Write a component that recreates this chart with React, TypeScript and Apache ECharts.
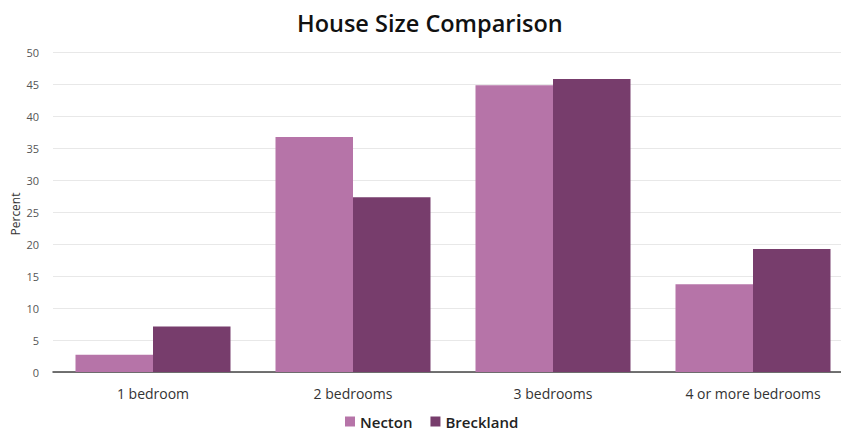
import React, { useEffect, useRef } from "react";
import * as echarts from "echarts";

const categories = ["1 bedroom", "2 bedrooms", "3 bedrooms", "4 or more bedrooms"];
const necton = [2.7, 36.7, 44.8, 13.7];
const breckland = [7.1, 27.3, 45.8, 19.2];
const seriesNames = ["Necton", "Breckland"];
const yAxisName = "Percent";

export default function App() {
  const ref = useRef<HTMLDivElement>(null);
  useEffect(() => {
    if (!ref.current) return;
    const chart = echarts.init(ref.current, null, { renderer: "svg" });
    const font = "'Open Sans', 'Noto Sans', sans-serif";
    chart.setOption({
      animation: false,
      backgroundColor: "#ffffff",
      textStyle: { fontFamily: font },
      title: {
        text: "House Size Comparison",
        left: 292,
        top: 6,
        textStyle: { fontFamily: font, fontSize: 23.5, fontWeight: 600, color: "#111" },
      },
      legend: {
        data: seriesNames,
        top: 409,
        left: 340,
        itemWidth: 10,
        itemHeight: 10,
        itemGap: 18,
        icon: "rect",
        textStyle: { fontFamily: font, fontSize: 15, fontWeight: 600, color: "#222", padding: [0, 0, 0, 0] },
      },
      graphic: [
        {
          type: "text",
          x: 15,
          y: 214,
          rotation: Math.PI / 2,
          style: {
            text: yAxisName,
            fontFamily: font,
            fontSize: 12,
            fill: "#333",
            align: "center",
            verticalAlign: "middle",
          },
        },
      ],
      grid: { left: 53, top: 52, width: 800, bottom: 63, outerBoundsMode: "none" },
      xAxis: {
        type: "category",
        data: categories,
        axisTick: { show: false },
        axisLine: { lineStyle: { color: "#444", width: 1.5 } },
        axisLabel: { fontFamily: font, fontSize: 14, color: "#333", margin: 14 },
      },
      yAxis: {
        type: "value",
        min: 0,
        max: 50,
        interval: 5,
        axisLabel: { fontFamily: font, fontSize: 11, color: "#555", margin: 14 },
        splitLine: { lineStyle: { color: "#e8e8e8", width: 1 } },
        axisLine: { show: false },
        axisTick: { show: false },
      },
      series: [
        {
          name: seriesNames[0],
          type: "bar",
          data: necton,
          barGap: "0%",
          barCategoryGap: "22.5%",
          itemStyle: { color: "#b674a8" },
        },
        {
          name: seriesNames[1],
          type: "bar",
          data: breckland,
          barGap: "0%",
          barCategoryGap: "22.5%",
          itemStyle: { color: "#773d6c" },
        },
      ],
    });
    return () => chart.dispose();
  }, []);
  return (
    <div
      ref={ref}
      style={{ position: "fixed", left: 0, top: 0, width: 841, height: 435 }}
    />
  );
}
